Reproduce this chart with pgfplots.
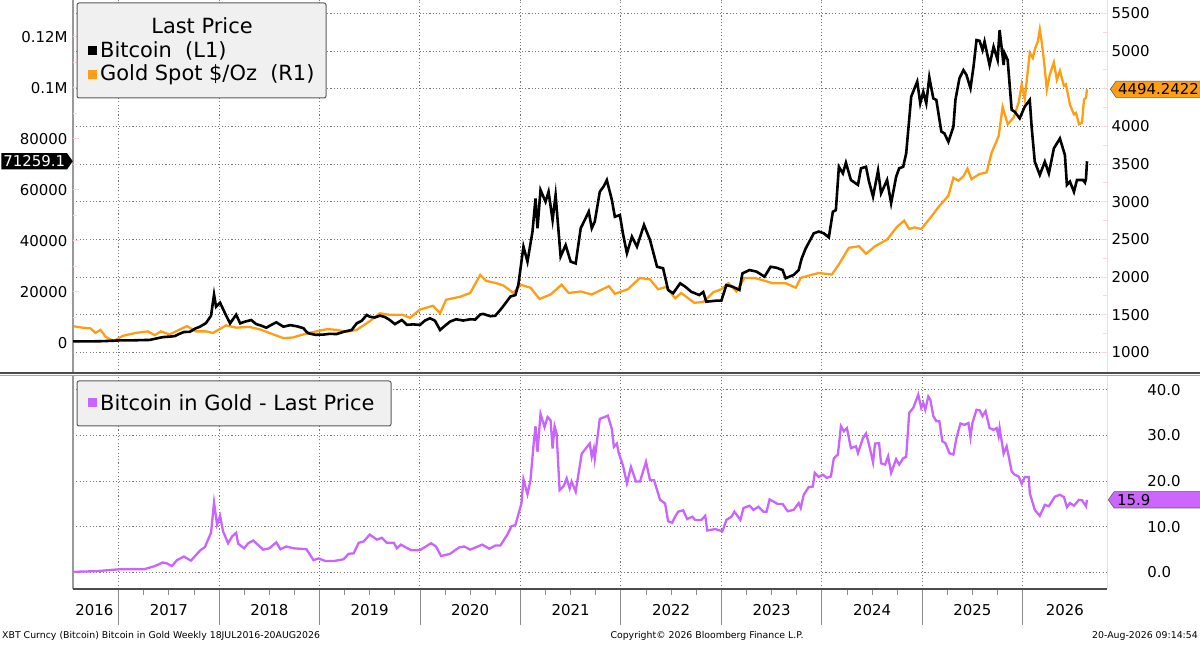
\documentclass[border=0pt]{standalone}
\usepackage{pgfplots}
\pgfplotsset{compat=1.18}
\usepackage{pgfplotstable}
\usepackage{fontspec}
\setmainfont{DejaVu Sans}
\usetikzlibrary{shapes.symbols}
\definecolor{goldc}{RGB}{255,158,20}
\definecolor{purp}{RGB}{200,100,255}
\definecolor{purptag}{RGB}{204,102,255}
\definecolor{legfill}{RGB}{240,240,240}
\definecolor{legdraw}{RGB}{90,90,90}
\definecolor{gridc}{RGB}{120,120,120}
\definecolor{pinkax}{RGB}{250,215,222}
\newcommand\tickfont{\fontsize{15}{18}\selectfont}
\newcommand\legfont{\fontsize{21}{25}\selectfont}
\newcommand\footfont{\fontsize{9.4}{11}\selectfont}

\pgfplotstableread{
x y
2016.54 650
2016.70 620
2016.85 720
2017.00 1000
2017.10 1000
2017.20 1100
2017.31 1200
2017.38 1800
2017.44 2300
2017.51 2500
2017.56 2700
2017.60 3500
2017.65 4300
2017.71 4400
2017.76 5600
2017.81 6400
2017.87 7800
2017.92 10700
2017.95 19000
2017.97 14200
2018.01 15800
2018.06 11600
2018.11 7700
2018.17 11100
2018.21 7700
2018.26 8400
2018.32 9000
2018.37 7400
2018.42 6800
2018.47 6000
2018.53 7300
2018.57 8100
2018.64 6400
2018.71 7000
2018.78 6500
2018.84 5800
2018.87 4400
2018.89 3800
2018.96 3200
2019.04 3300
2019.10 3600
2019.17 3500
2019.24 4400
2019.32 5100
2019.37 7700
2019.42 8700
2019.47 11000
2019.50 10300
2019.55 10000
2019.60 10700
2019.65 10200
2019.70 9000
2019.75 7400
2019.82 9000
2019.87 7100
2019.93 7300
2020.00 7100
2020.05 8800
2020.10 9700
2020.15 8700
2020.20 5100
2020.25 6800
2020.30 8400
2020.36 9300
2020.43 8800
2020.50 9300
2020.55 9200
2020.60 11200
2020.63 11400
2020.70 10500
2020.75 10700
2020.80 13000
2020.84 15000
2020.90 18200
2020.95 18800
2020.98 23000
2021.03 37800
2021.07 31900
2021.12 43700
2021.15 56700
2021.17 45000
2021.20 60000
2021.25 55400
2021.28 59300
2021.32 48200
2021.35 58000
2021.40 33900
2021.45 38400
2021.50 31900
2021.55 31200
2021.60 45000
2021.64 48200
2021.68 51500
2021.71 45000
2021.74 47600
2021.79 59300
2021.83 61500
2021.86 63900
2021.91 56100
2021.94 49500
2021.99 50200
2022.02 43000
2022.06 35200
2022.11 41700
2022.16 37800
2022.23 46300
2022.29 40400
2022.36 29900
2022.42 29300
2022.47 20800
2022.52 19500
2022.59 23400
2022.64 22100
2022.70 20100
2022.78 18800
2022.82 20000
2022.85 16200
2022.95 16600
2023.00 16600
2023.05 22700
2023.11 22100
2023.18 20800
2023.21 27300
2023.28 28600
2023.35 28000
2023.43 26000
2023.49 29900
2023.55 29500
2023.61 28600
2023.64 25400
2023.72 26700
2023.77 28600
2023.80 33200
2023.84 37100
2023.92 43000
2023.97 43700
2024.02 43000
2024.07 41400
2024.11 51500
2024.14 52100
2024.17 69100
2024.21 66500
2024.24 70700
2024.29 63900
2024.36 62000
2024.39 68500
2024.44 69100
2024.47 63300
2024.51 57400
2024.56 67600
2024.59 58700
2024.65 63900
2024.69 54800
2024.74 65200
2024.77 68500
2024.81 69100
2024.84 74400
2024.89 96600
2024.95 102500
2024.98 94000
2025.01 98500
2025.04 94000
2025.07 104200
2025.11 95900
2025.14 95300
2025.19 82900
2025.22 82200
2025.26 78900
2025.31 84800
2025.33 95300
2025.37 103800
2025.41 107000
2025.44 105100
2025.48 99900
2025.51 108300
2025.54 118800
2025.57 118500
2025.60 114900
2025.62 118200
2025.67 109000
2025.71 116200
2025.75 111000
2025.77 122700
2025.81 109000
2025.82 113600
2025.85 111000
2025.89 91400
2025.92 90700
2025.97 88100
2026.02 92700
2026.07 95300
2026.09 84200
2026.12 71100
2026.17 65900
2026.22 71100
2026.26 66500
2026.31 76300
2026.37 80200
2026.42 73700
2026.44 62000
2026.47 63300
2026.51 59300
2026.54 63900
2026.60 63900
2026.62 62900
2026.63 64600
2026.64 71259.1
}\btcdata

\pgfplotstableread{
x y
2016.54 1350
2016.64 1330
2016.72 1320
2016.77 1260
2016.82 1300
2016.87 1210
2016.95 1150
2017.04 1220
2017.17 1260
2017.29 1280
2017.36 1230
2017.42 1280
2017.51 1240
2017.60 1300
2017.68 1350
2017.77 1280
2017.87 1280
2017.94 1260
2018.07 1360
2018.17 1330
2018.30 1340
2018.40 1310
2018.50 1260
2018.60 1210
2018.64 1190
2018.74 1200
2018.81 1230
2018.90 1260
2019.00 1290
2019.08 1310
2019.17 1300
2019.27 1275
2019.37 1300
2019.50 1415
2019.60 1520
2019.70 1500
2019.83 1500
2019.90 1460
2020.00 1570
2020.13 1620
2020.20 1520
2020.26 1700
2020.40 1740
2020.50 1790
2020.60 2030
2020.66 1950
2020.76 1920
2020.83 1890
2020.93 1790
2021.00 1900
2021.10 1860
2021.19 1710
2021.30 1770
2021.41 1900
2021.48 1790
2021.60 1810
2021.71 1770
2021.88 1880
2021.94 1780
2022.07 1840
2022.19 1990
2022.29 1970
2022.37 1840
2022.45 1870
2022.54 1720
2022.60 1790
2022.73 1660
2022.82 1670
2022.92 1800
2023.00 1840
2023.07 1920
2023.15 1810
2023.23 1990
2023.33 1990
2023.41 1960
2023.51 1920
2023.64 1920
2023.74 1860
2023.79 1990
2023.91 2035
2023.97 2055
2024.10 2035
2024.17 2170
2024.27 2390
2024.37 2410
2024.44 2310
2024.53 2410
2024.65 2500
2024.75 2670
2024.82 2750
2024.87 2640
2024.92 2660
2024.99 2640
2025.07 2770
2025.17 2945
2025.26 3080
2025.31 3320
2025.36 3280
2025.41 3340
2025.45 3440
2025.49 3300
2025.57 3370
2025.64 3390
2025.69 3650
2025.76 3870
2025.80 4260
2025.85 4030
2025.91 4120
2025.96 4320
2025.99 4560
2026.02 4360
2026.07 4980
2026.10 4910
2026.12 5020
2026.15 5130
2026.17 5290
2026.19 5110
2026.21 4890
2026.24 4490
2026.27 4690
2026.31 4850
2026.34 4620
2026.37 4740
2026.41 4540
2026.43 4560
2026.47 4290
2026.51 4160
2026.53 4180
2026.56 4030
2026.59 4050
2026.61 4360
2026.63 4380
2026.64 4494.2422
}\golddata

\pgfplotstableread{
x y
2016.54 0.15
2016.78 0.3
2017.00 0.7
2017.15 0.75
2017.25 0.7
2017.36 1.4
2017.44 2.2
2017.48 2.0
2017.53 1.4
2017.58 2.7
2017.65 3.5
2017.72 2.6
2017.81 4.8
2017.86 5.6
2017.92 8.7
2017.95 15.3
2017.98 10.5
2018.01 12.4
2018.04 9.0
2018.09 6.4
2018.13 7.9
2018.17 8.7
2018.19 6.3
2018.25 5.3
2018.29 6.4
2018.34 7.0
2018.44 5.0
2018.50 5.3
2018.57 6.6
2018.61 5.1
2018.67 5.7
2018.74 5.3
2018.87 5.1
2018.94 2.7
2018.99 3.1
2019.06 2.5
2019.14 2.5
2019.24 2.9
2019.29 4.1
2019.34 4.2
2019.39 6.5
2019.44 6.8
2019.50 8.3
2019.57 7.2
2019.62 7.6
2019.67 6.5
2019.74 6.5
2019.77 5.3
2019.81 6.1
2019.91 4.9
2020.00 4.9
2020.11 6.4
2020.16 5.7
2020.21 3.6
2020.30 4.1
2020.39 5.5
2020.44 5.7
2020.50 5.0
2020.62 6.1
2020.69 5.2
2020.75 5.9
2020.80 5.9
2020.87 8.3
2020.91 10.1
2020.95 10.4
2021.01 15.1
2021.03 20.4
2021.07 17.1
2021.10 20.2
2021.13 27.8
2021.15 32.0
2021.17 26.4
2021.20 34.7
2021.24 31.8
2021.27 34.0
2021.30 33.3
2021.32 27.1
2021.34 32.0
2021.36 30.4
2021.39 18.0
2021.43 18.9
2021.46 20.6
2021.49 18.4
2021.51 19.9
2021.55 17.7
2021.61 26.0
2021.65 27.1
2021.69 28.2
2021.71 25.3
2021.73 27.1
2021.74 24.9
2021.79 33.6
2021.87 34.3
2021.91 31.4
2021.93 27.5
2021.96 28.2
2021.98 26.0
2022.02 23.5
2022.06 19.5
2022.10 23.1
2022.15 19.9
2022.19 19.9
2022.25 24.2
2022.29 20.2
2022.33 20.2
2022.39 15.9
2022.44 15.1
2022.47 11.2
2022.51 10.9
2022.54 12.2
2022.57 13.3
2022.62 13.6
2022.66 11.7
2022.71 12.2
2022.74 11.5
2022.80 11.5
2022.84 12.4
2022.86 9.2
2022.94 9.5
2023.01 9.0
2023.05 11.5
2023.10 12.2
2023.13 13.3
2023.19 11.5
2023.22 14.1
2023.28 14.6
2023.32 13.7
2023.37 14.4
2023.42 13.3
2023.45 13.3
2023.48 16.0
2023.56 15.0
2023.61 15.0
2023.66 13.4
2023.72 13.7
2023.77 15.2
2023.79 14.1
2023.82 17.0
2023.87 18.7
2023.91 18.8
2023.93 21.8
2023.97 20.9
2024.01 21.4
2024.05 20.7
2024.09 21.0
2024.12 25.0
2024.16 25.8
2024.19 32.0
2024.22 30.9
2024.25 31.6
2024.29 27.2
2024.34 27.6
2024.36 26.1
2024.41 29.4
2024.44 30.4
2024.47 28.0
2024.51 24.1
2024.53 28.2
2024.57 28.3
2024.59 23.9
2024.63 23.6
2024.66 25.4
2024.69 21.8
2024.74 24.8
2024.77 23.6
2024.81 25.0
2024.84 25.3
2024.87 34.9
2024.91 36.0
2024.96 38.9
2024.99 36.0
2025.01 37.1
2025.03 35.6
2025.06 38.5
2025.08 37.8
2025.11 34.2
2025.14 33.1
2025.17 33.1
2025.20 28.7
2025.23 28.3
2025.27 26.1
2025.31 25.8
2025.34 29.4
2025.38 32.6
2025.42 32.3
2025.46 32.7
2025.48 29.6
2025.50 32.8
2025.54 35.6
2025.57 35.5
2025.60 34.2
2025.63 35.3
2025.67 31.6
2025.71 31.2
2025.74 31.6
2025.76 29.8
2025.77 31.6
2025.81 26.0
2025.84 27.6
2025.89 22.1
2025.92 21.4
2025.96 21.0
2025.99 19.4
2026.02 20.9
2026.06 20.9
2026.07 17.4
2026.12 13.7
2026.17 12.4
2026.22 14.8
2026.26 14.5
2026.32 16.6
2026.37 17.0
2026.41 16.5
2026.44 14.3
2026.47 15.2
2026.51 14.6
2026.56 15.9
2026.59 15.8
2026.63 14.5
2026.64 15.9
}\ratiodata

\begin{document}
\begin{tikzpicture}[x=1bp,y=1bp]
\useasboundingbox (0,0) rectangle (1200,645);
\pgfplotsset{
  every axis/.append style={
    scale only axis, clip mode=individual,
    /pgf/number format/assume math mode=true,
    xmin=2016.546, xmax=2026.839,
    axis line style={draw=none},
    grid style={gridc, line width=1bp, dash pattern=on 1.1bp off 2.2bp},
    ticklabel style={font=\tickfont},
  },
}
% ---------- top panel: gold (right axis, with grids) ----------
\begin{axis}[
  at={(73bp,272bp)}, anchor=south west, width=1034bp, height=373bp,
  ymin=727.9, ymax=5679.2,
  axis y line*=right, axis x line*=bottom,
  xtick={2017,2018,2019,2020,2021,2022,2023,2024,2025,2026},
  xticklabels={}, xtick style={draw=none},
  ytick={1000,1500,2000,2500,3000,3500,4000,4500,5000,5500},
  yticklabels={1000,1500,2000,2500,3000,3500,4000,{},5000,5500},
  minor y tick num=1,
  ytick style={draw=pinkax, line width=1bp}, major tick length=6bp, minor tick length=4bp,
  tick align=inside,
  yticklabel style={anchor=west, xshift=1bp},
  xmajorgrids, ymajorgrids,
]
\addplot[goldc, line width=2.3bp] table[x=x,y=y] {\golddata};
\node[signal, signal to=west, signal pointer angle=110, fill=goldc, draw=legdraw, line width=0.6bp,
  anchor=west, font=\tickfont, inner xsep=2bp, inner ysep=2.5bp, text=black]
  at ([xshift=3bp]axis cs:2026.839,4494.2422) {4494.2422};
\draw[pinkax, line width=1bp] (rel axis cs:1,0) -- (rel axis cs:1,1);
\draw[gray!80, line width=1.2bp] (rel axis cs:0,0) -- (rel axis cs:0,1);
\end{axis}
% ---------- top panel: bitcoin (left axis) ----------
\begin{axis}[
  at={(73bp,272bp)}, anchor=south west, width=1034bp, height=373bp,
  ymin=-11765, ymax=134510,
  axis y line*=left, axis x line=none,
  scaled y ticks=false,
  ytick={0,20000,40000,60000,80000,100000,120000},
  yticklabels={0,20000,40000,60000,80000,0.1M,0.12M},
  minor y tick num=1,
  ytick style={draw=pinkax, line width=1bp}, major tick length=6bp, minor tick length=4bp,
  tick align=inside,
  yticklabel style={anchor=east, xshift=-2bp},
]
\addplot[black, line width=2.6bp] table[x=x,y=y] {\btcdata};
\node[signal, signal to=east, signal pointer angle=110, fill=black, text=white,
  anchor=east, font=\tickfont, inner xsep=2bp, inner ysep=2.5bp]
  at (axis cs:2016.546,71259.1) {71259.1};
\end{axis}
% ---------- bottom panel: ratio ----------
\begin{axis}[
  at={(73bp,56bp)}, anchor=south west, width=1034bp, height=214bp,
  ymin=-3.6, ymax=43.2,
  axis y line*=right, axis x line*=bottom,
  xtick={2017,2018,2019,2020,2021,2022,2023,2024,2025,2026},
  xticklabels={},
  minor x tick num=3,
  xtick style={draw=gray!90, line width=0.8bp},
  major tick length=36bp, minor tick length=6bp,
  tick align=outside,
  ytick={0,10,20,30,40},
  yticklabels={0.0,10.0,20.0,30.0,40.0},
  ytick style={draw=none},
  yticklabel style={anchor=west, xshift=1bp},
  extra x ticks={2016.76,2017.5,2018.5,2019.5,2020.5,2021.5,2022.5,2023.5,2024.5,2025.5,2026.42},
  extra x tick labels={2016,2017,2018,2019,2020,2021,2022,2023,2024,2025,2026},
  extra x tick style={grid=none, tick style={draw=none}, major tick length=0bp,
    xticklabel style={yshift=-12bp}},
  xmajorgrids, ymajorgrids,
]
\addplot[purp, line width=2.3bp] table[x=x,y=y] {\ratiodata};
\node[signal, signal to=west, signal pointer angle=110, fill=purptag, draw=legdraw, line width=0.6bp,
  anchor=west, font=\tickfont, inner xsep=3bp, inner ysep=2.5bp, text width=82bp, align=left]
  at ([xshift=1bp]axis cs:2026.839,15.9) {15.9};
\draw[pinkax, line width=1bp] (rel axis cs:1,0) -- (rel axis cs:1,1);
\draw[gray!80, line width=1.2bp] (rel axis cs:0,0) -- (rel axis cs:0,1);
\draw[gray!60!black, line width=1.2bp] (rel axis cs:0,0) -- (rel axis cs:1,0);
\end{axis}
% ---------- separator ----------
\draw[black!70, line width=1.6bp] (0,272) -- (1200,272);
\draw[gray!70, line width=0.8bp] (0,269.8) -- (1200,269.8);
% ---------- legends ----------
\draw[legdraw, fill=legfill, rounded corners=2bp, line width=1bp] (77,547) rectangle (326,642);
\node[font=\legfont, inner sep=0] at (202,619) {Last Price};
\fill[black] (88,589.5) rectangle (97,598.5);
\node[font=\legfont, inner sep=0, anchor=west] at (100,594) {Bitcoin\ \ (L1)};
\fill[goldc] (88,565.5) rectangle (97,574.5);
\node[font=\legfont, inner sep=0, anchor=west] at (100,570) {Gold Spot \$/Oz\ \ (R1)};
\draw[legdraw, fill=legfill, rounded corners=2bp, line width=1bp] (77,219) rectangle (391,264);
\fill[purp] (88,237.5) rectangle (97,246.5);
\node[font=\legfont, inner sep=0, anchor=west] at (100,242) {Bitcoin in Gold - Last Price};
% ---------- footer ----------
\node[font=\footfont, inner sep=0, anchor=west] at (2,9) {XBT Curncy (Bitcoin) Bitcoin in Gold Weekly 18JUL2016-20AUG2026};
\node[font=\footfont, inner sep=0] at (707,9) {Copyright© 2026 Bloomberg Finance L.P.};
\node[font=\footfont, inner sep=0, anchor=east] at (1198,9) {20-Aug-2026 09:14:54};
\end{tikzpicture}
\end{document}
